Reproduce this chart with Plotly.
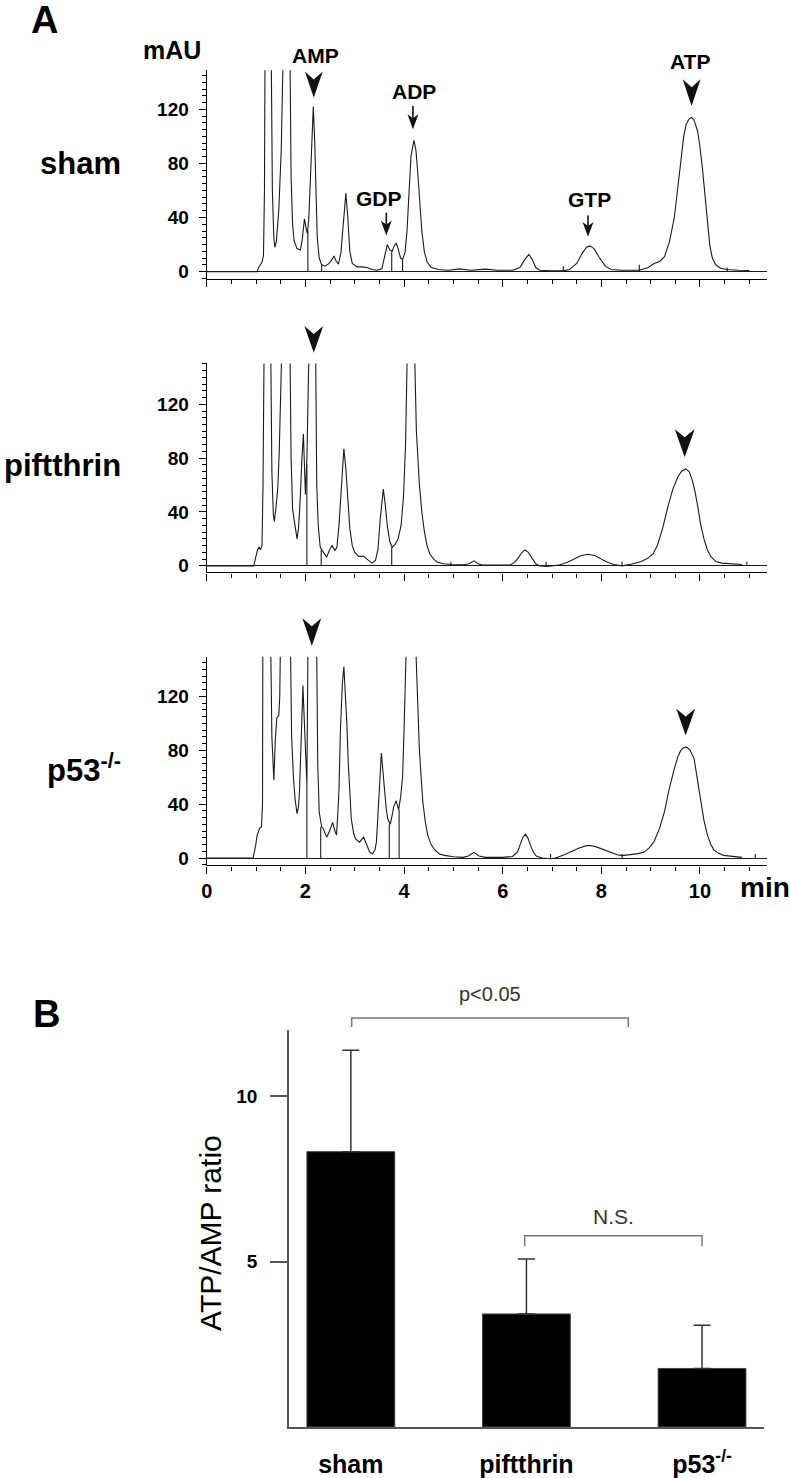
import plotly.graph_objects as go

# ---------------- Panel A: chromatogram data (min, mAU) ----------------
sham_t = [0.00, 1.02, 1.05, 1.08, 1.12, 1.15, 1.17, 1.18, 1.19, 1.30,
          1.31, 1.33, 1.36, 1.38, 1.41, 1.46, 1.51, 1.54, 1.55, 1.68,
          1.69, 1.71, 1.74, 1.77, 1.83, 1.90, 1.94, 1.98, 2.01, 2.04,
          2.07, 2.10, 2.13, 2.16, 2.19, 2.21, 2.24, 2.28, 2.33, 2.40,
          2.48, 2.54, 2.58, 2.62, 2.67, 2.72, 2.77, 2.82, 2.86, 2.90,
          2.95, 3.05, 3.15, 3.25, 3.35, 3.45, 3.55, 3.60, 3.66, 3.71,
          3.76, 3.80, 3.84, 3.88, 3.93, 3.97, 4.02, 4.06, 4.10, 4.14,
          4.20, 4.24, 4.28, 4.32, 4.36, 4.41, 4.47, 4.55, 4.70, 4.90,
          5.13, 5.35, 5.65, 5.90, 6.20, 6.35, 6.45, 6.53, 6.60, 6.67,
          6.75, 7.00, 7.23, 7.35, 7.50, 7.62, 7.70, 7.77, 7.85, 7.95,
          8.08, 8.20, 8.40, 8.77, 8.95, 9.07, 9.18, 9.28, 9.38, 9.48,
          9.55, 9.61, 9.67, 9.72, 9.78, 9.83, 9.88, 9.95, 10.00, 10.05,
          10.10, 10.15, 10.20, 10.25, 10.32, 10.42, 10.55, 10.78, 11.00]
sham_mau = [0, 0, 3, 5, 7, 12, 60, 149, 400, 400,
            149, 60, 25, 18, 22, 45, 90, 149, 400, 400,
            149, 70, 35, 23, 17, 16, 25, 39, 33, 28,
            40, 70, 105, 122, 95, 60, 25, 10, 5, 4,
            6, 9, 11.5, 8, 5.5, 14, 38, 58, 40, 15,
            6, 3.5, 3.5, 3, 1.5, 1, 2, 10, 20, 16,
            15, 19, 21, 17, 10, 9, 14, 30, 62, 85,
            97, 90, 72, 50, 30, 15, 7, 3, 1.5, 1,
            2, 1, 1.8, 1, 1, 3, 9, 12.7, 9, 3,
            1, 0.5, 0.5, 1.5, 6, 14, 18, 19, 17, 11,
            4, 1.5, 1, 1, 3, 6, 7.5, 11, 22, 40,
            62, 83, 100, 109, 113, 114, 112, 104, 92, 76,
            55, 34, 19, 10, 5, 2.5, 1.5, 1, 0.8]

pift_t = [0.00, 0.95, 0.99, 1.03, 1.06, 1.09, 1.12, 1.14, 1.16, 1.17,
          1.29, 1.30, 1.32, 1.35, 1.37, 1.40, 1.44, 1.47, 1.49, 1.52,
          1.68, 1.69, 1.71, 1.74, 1.78, 1.83, 1.86, 1.89, 1.93, 1.96,
          1.98, 2.00, 2.03, 2.05, 2.06, 2.20, 2.21, 2.23, 2.26, 2.30,
          2.34, 2.39, 2.43, 2.49, 2.54, 2.60, 2.64, 2.68, 2.72, 2.78,
          2.82, 2.86, 2.90, 2.95, 3.00, 3.08, 3.18, 3.25, 3.35, 3.42,
          3.47, 3.52, 3.58, 3.62, 3.66, 3.71, 3.76, 3.82, 3.88, 3.94,
          3.99, 4.03, 4.06, 4.08, 4.19, 4.22, 4.25, 4.31, 4.36, 4.41,
          4.46, 4.52, 4.60, 4.68, 4.80, 4.95, 5.20, 5.32, 5.42, 5.50,
          5.60, 5.90, 6.13, 6.22, 6.30, 6.38, 6.45, 6.52, 6.60, 6.67,
          6.75, 6.90, 7.13, 7.30, 7.43, 7.58, 7.73, 7.88, 8.00, 8.10,
          8.25, 8.42, 8.60, 8.80, 8.94, 9.05, 9.14, 9.25, 9.35, 9.45,
          9.55, 9.63, 9.71, 9.78, 9.84, 9.90, 9.96, 10.01, 10.08, 10.15,
          10.22, 10.32, 10.45, 10.65, 10.85]
pift_mau = [0, 0, 6, 12, 14, 12, 15, 60, 149, 400,
            400, 149, 70, 38, 33, 42, 58, 85, 110, 400,
            400, 149, 80, 42, 32, 20, 28, 46, 80, 98,
            75, 53, 80, 149, 400, 400, 149, 60, 30, 14,
            11.5, 9, 6.5, 12, 15, 11.5, 14, 30, 55, 87,
            72, 45, 28, 15, 10, 7, 7, 5, 2, 4,
            12, 36, 57, 45, 30, 18, 14, 16, 20, 30,
            52, 90, 149, 400, 400, 149, 100, 61, 40, 26,
            16, 9, 5, 2.7, 1.5, 1, 0.8, 1.5, 3.7, 1.5,
            0.5, 0.5, 0.5, 2, 5, 9.5, 11.8, 10, 5, 1.5,
            0, -0.5, 0.5, 2.5, 4.7, 7.5, 8.6, 7.5, 5, 3,
            1, 0, 1.2, 3, 5.6, 9, 15.5, 29, 44, 57,
            66, 70.5, 72, 70, 64, 55, 43, 31.4, 20, 11.8,
            7, 3.2, 2, 1.3, 1]

p53_t = [0.00, 0.94, 0.99, 1.02, 1.07, 1.11, 1.13, 1.14, 1.15, 1.29,
         1.30, 1.32, 1.34, 1.36, 1.39, 1.42, 1.46, 1.48, 1.49, 1.50,
         1.69, 1.70, 1.72, 1.76, 1.79, 1.83, 1.86, 1.88, 1.91, 1.93,
         1.95, 1.96, 1.98, 2.01, 2.03, 2.05, 2.06, 2.22, 2.23, 2.25,
         2.28, 2.33, 2.36, 2.43, 2.49, 2.55, 2.60, 2.63, 2.66, 2.68,
         2.71, 2.75, 2.78, 2.81, 2.84, 2.87, 2.89, 2.93, 2.98, 3.02,
         3.10, 3.18, 3.25, 3.30, 3.36, 3.41, 3.44, 3.49, 3.54, 3.57,
         3.60, 3.64, 3.67, 3.72, 3.76, 3.79, 3.84, 3.89, 3.93, 3.97,
         4.00, 4.02, 4.03, 4.05, 4.22, 4.245, 4.27, 4.31, 4.35, 4.38,
         4.43, 4.48, 4.55, 4.62, 4.72, 4.82, 5.00, 5.20, 5.30, 5.42,
         5.52, 5.65, 6.00, 6.20, 6.30, 6.36, 6.41, 6.46, 6.51, 6.56,
         6.62, 6.68, 6.80, 6.97, 7.07, 7.25, 7.40, 7.55, 7.70, 7.78,
         7.90, 8.07, 8.20, 8.32, 8.42, 8.60, 8.75, 8.87, 8.97, 9.07,
         9.18, 9.28, 9.38, 9.48, 9.55, 9.61, 9.67, 9.73, 9.80, 9.88,
         9.94, 10.01, 10.08, 10.15, 10.22, 10.28, 10.38, 10.48, 10.68, 10.85]
p53_mau = [0, 0, 9, 16.7, 22, 23, 40, 149, 400, 400,
           149, 90, 65, 58, 88, 104, 106, 120, 149, 400,
           400, 149, 90, 58, 44, 33, 38, 50, 85, 108,
           128, 118, 95, 63, 55, 149, 400, 400, 149, 70,
           34, 23, 22, 15.5, 20, 26.5, 20, 17, 35, 50,
           95, 130, 142, 125, 100, 70, 55, 29, 18, 14,
           11.8, 15.5, 9.3, 4.5, 3.2, 6, 12, 46, 78, 65,
           51, 36, 29, 25, 32, 38, 42.5, 36, 45, 60,
           95, 120, 149, 400, 400, 149, 115, 81, 58, 42,
           27, 17, 10, 6, 3, 2, 1, 0.5, 1.5, 4.2,
           1.5, 0.5, 0.5, 1.2, 4.5, 10, 15.5, 17.7, 15, 9.8,
           4.5, 1.5, 0, -0.5, 0, 2.5, 5, 7.5, 9.2, 9.3,
           8.3, 6, 3.8, 2.5, 1.8, 2.5, 3.3, 4.4, 7.5, 12.3,
           22, 34.4, 52, 66.4, 75, 80, 82, 82.4, 80, 73.8,
           60, 41.8, 28, 17.2, 10, 6.1, 3.5, 2, 1, 0.5]

# integration drop lines (time, height in mAU)
sham_drop_t = [2.05, 2.33, 3.75, 3.97, 7.23, 8.77, 10.55]
sham_drop_h = [30, 5, 15, 9, 4, 5, 3]
pift_drop_t = [2.03, 2.32, 3.75, 4.95, 6.88, 8.42, 10.95]
pift_drop_h = [75, 12, 14, 3, 3, 3, 3]
p53_drop_t = [2.03, 2.31, 3.70, 3.90, 6.97, 8.42, 11.12]
p53_drop_h = [55, 23, 25, 36, 3, 3, 3]

# ---------------- Panel B: bar data ----------------
groups = ["sham", "piftthrin", "p53<sup>-/-</sup>"]
ratio_mean = [8.33, 3.42, 1.77]
ratio_err = [3.07, 1.66, 1.31]

# ---------------- layout helpers ----------------
W, H = 790, 1478
FONT = "Liberation Sans, Arial, Helvetica, sans-serif"
INK = "#1a1a1a"


def pyp(py):
    return 1 - py / H


A_XDOM = [202.3 / W, 766.7 / W]
A_XRANGE = [0, 11.356]
PPM = (766.7 - 202.3) / (A_XRANGE[1] - A_XRANGE[0])

panels = [
    dict(t=sham_t, v=sham_mau, dt=sham_drop_t, dh=sham_drop_h,
         ytop=70.7, ybot=281.0, yrange=[-5.7, 148.9],
         label="sham", label_py=165),
    dict(t=pift_t, v=pift_mau, dt=pift_drop_t, dh=pift_drop_h,
         ytop=365.7, ybot=576.0, yrange=[-4.94, 150.3],
         label="piftthrin", label_py=468),
    dict(t=p53_t, v=p53_mau, dt=p53_drop_t, dh=p53_drop_h,
         ytop=660.7, ybot=870.7, yrange=[-5.46, 149.5],
         label="p53<sup>-/-</sup>", label_py=773),
]

fig = go.Figure()
layout = dict(
    width=W, height=H, margin=dict(l=0, r=0, t=0, b=0),
    paper_bgcolor="white", plot_bgcolor="white",
    font=dict(family=FONT, color="black"), showlegend=False,
)
annotations = []
shapes = []

for i, p in enumerate(panels, start=1):
    xa = "x" if i == 1 else f"x{i}"
    ya = "y" if i == 1 else f"y{i}"
    fig.add_trace(go.Scatter(x=p["t"], y=p["v"], mode="lines",
                             line=dict(color=INK, width=1.1),
                             xaxis=xa, yaxis=ya, hoverinfo="skip"))
    dx, dy = [], []
    for t, h in zip(p["dt"], p["dh"]):
        dx += [t, t, None]
        dy += [0, h, None]
    fig.add_trace(go.Scatter(x=dx, y=dy, mode="lines",
                             line=dict(color=INK, width=1.1),
                             xaxis=xa, yaxis=ya, hoverinfo="skip"))
    xkey = "xaxis" if i == 1 else f"xaxis{i}"
    ykey = "yaxis" if i == 1 else f"yaxis{i}"
    layout[xkey] = dict(
        domain=A_XDOM, range=A_XRANGE, anchor=ya,
        showline=True, linecolor="black", linewidth=1.3,
        ticks="outside", tickmode="linear", tick0=0, dtick=2,
        ticklen=7, tickwidth=1.3, tickcolor="black",
        minor=dict(ticks="outside", tickmode="linear", tick0=0, dtick=0.5,
                   ticklen=4, tickwidth=1, tickcolor="black", showgrid=False),
        showgrid=False, zeroline=False, showticklabels=(i == 3),
        tickfont=dict(family=FONT, size=20, color="black", weight="bold"),
    )
    layout[ykey] = dict(
        domain=[pyp(p["ybot"]), pyp(p["ytop"])], range=p["yrange"], anchor=xa,
        showline=True, linecolor="black", linewidth=1.3,
        ticks="outside", tickmode="array", tickvals=[0, 40, 80, 120],
        ticklen=7, tickwidth=1.3, tickcolor="black",
        minor=dict(ticks="outside", tickmode="linear", tick0=0, dtick=5,
                   ticklen=4, tickwidth=1, tickcolor="black", showgrid=False),
        showgrid=False, zeroline=True, zerolinecolor=INK, zerolinewidth=1.1,
        tickfont=dict(family=FONT, size=19, color="black", weight="bold"),
        ticklabelstandoff=6,
    )
    annotations.append(dict(text=p["label"], xref="paper", yref="paper",
                            x=118 / W, y=pyp(p["label_py"]),
                            xanchor="right", yanchor="middle", showarrow=False,
                            font=dict(size=31, weight="bold", color="black")))

# chevron arrowheads: (xref, time, tip pixel y, width px, height px)
chevrons = [("x", 2.17, 98, 18, 26), ("x", 9.83, 106.7, 18, 27),
            ("x2", 2.17, 355, 19, 27), ("x2", 9.69, 460, 20, 28),
            ("x3", 2.13, 650, 19, 28), ("x3", 9.71, 740, 19, 27)]
for xr, t, tip, w, h in chevrons:
    hw = w / 2 / PPM
    path = (f"M {t - hw},{pyp(tip - h)} L {t},{pyp(tip - h + 8)} "
            f"L {t + hw},{pyp(tip - h)} L {t},{pyp(tip)} Z")
    shapes.append(dict(type="path", xref=xr, yref="paper", path=path,
                       fillcolor="#111", line=dict(width=0)))

# small arrows: (time, shaft top px, tip px)
small_arrows = [(3.64, 214, 237), (4.18, 106.7, 130), (7.73, 216.7, 238.3)]
for t, top, tip in small_arrows:
    hw = 5.5 / PPM
    shapes.append(dict(type="line", xref="x", yref="paper",
                       x0=t, x1=t, y0=pyp(top), y1=pyp(tip - 8),
                       line=dict(color="#111", width=1.6)))
    path = (f"M {t - hw},{pyp(tip - 15)} L {t},{pyp(tip - 11)} "
            f"L {t + hw},{pyp(tip - 15)} L {t},{pyp(tip)} Z")
    shapes.append(dict(type="path", xref="x", yref="paper", path=path,
                       fillcolor="#111", line=dict(width=0)))

# peak labels
for txt, t, py in [("AMP", 2.21, 56), ("ADP", 4.21, 92), ("GDP", 3.50, 200),
                   ("GTP", 7.75, 201), ("ATP", 9.79, 62)]:
    annotations.append(dict(text=txt, xref="x", yref="paper", x=t, y=pyp(py),
                            xanchor="center", yanchor="middle", showarrow=False,
                            font=dict(size=21, weight="bold", color="black")))

annotations += [
    dict(text="A", xref="paper", yref="paper", x=39 / W, y=pyp(20),
         xanchor="center", yanchor="middle", showarrow=False,
         font=dict(size=38, weight="bold")),
    dict(text="mAU", xref="paper", yref="paper", x=167 / W, y=pyp(50),
         xanchor="center", yanchor="middle", showarrow=False,
         font=dict(size=25, weight="bold")),
    dict(text="min", xref="paper", yref="paper", x=738 / W, y=pyp(893),
         xanchor="left", yanchor="middle", showarrow=False,
         font=dict(size=28, weight="bold")),
    dict(text="B", xref="paper", yref="paper", x=41 / W, y=pyp(1020),
         xanchor="center", yanchor="middle", showarrow=False,
         font=dict(size=38, weight="bold")),
    dict(text="ATP/AMP ratio", xref="paper", yref="paper", x=206 / W,
         y=pyp(1240), xanchor="center", yanchor="middle", textangle=-90,
         showarrow=False, font=dict(size=30)),
    dict(text="p<0.05", xref="x4", yref="paper", x=0.79, y=pyp(1000),
         xanchor="center", yanchor="middle", showarrow=False,
         font=dict(size=20, color="#333")),
    dict(text="N.S.", xref="x4", yref="paper", x=1.495, y=pyp(1224),
         xanchor="center", yanchor="middle", showarrow=False,
         font=dict(size=21, color="#333")),
]

# significance brackets (x in bar-axis units, y in page pixels)
for x0, x1, ytop, ybot in [(0.005, 1.58, 1024.3, 1033.3), (0.99, 2.0, 1243.3, 1254.0)]:
    shapes.append(dict(type="path", xref="x4", yref="paper",
                       path=f"M {x0},{pyp(ybot)} L {x0},{pyp(ytop)} L {x1},{pyp(ytop)} L {x1},{pyp(ybot)}",
                       line=dict(color="#777", width=1.5)))

# ---------------- Panel B ----------------
fig.add_trace(go.Bar(
    x=[0, 1, 2], y=ratio_mean, width=0.5,
    marker=dict(color="black", line=dict(color="#444", width=1)),
    error_y=dict(type="data", array=ratio_err, arrayminus=[0, 0, 0],
                 symmetric=False, thickness=1.5, width=8.5, color="#333"),
    xaxis="x4", yaxis="y4", hoverinfo="skip"))

layout["xaxis4"] = dict(
    domain=[285 / W, 763.3 / W], range=[-0.353, 2.35], anchor="y4",
    tickmode="array", tickvals=[0, 1, 2], ticktext=groups, ticks="",
    showline=True, linecolor="#555", linewidth=1.5, showgrid=False,
    zeroline=False, ticklabelstandoff=14,
    tickfont=dict(family=FONT, size=25, color="black", weight="bold"),
)
layout["yaxis4"] = dict(
    domain=[pyp(1435.7), pyp(1036.7)], range=[0, 12], anchor="x4",
    tickmode="array", tickvals=[5, 10], ticks="outside", ticklen=17,
    tickwidth=1.5, tickcolor="#555", showline=True, linecolor="#555",
    linewidth=1.5, showgrid=False, zeroline=False, ticklabelstandoff=9,
    tickfont=dict(family=FONT, size=19, color="black", weight="bold"),
)

layout["annotations"] = annotations
layout["shapes"] = shapes
fig.update_layout(**layout)

fig.write_html("out.html", config={"displayModeBar": False},
               post_script="document.body.style.margin='0';document.body.style.padding='0';")
